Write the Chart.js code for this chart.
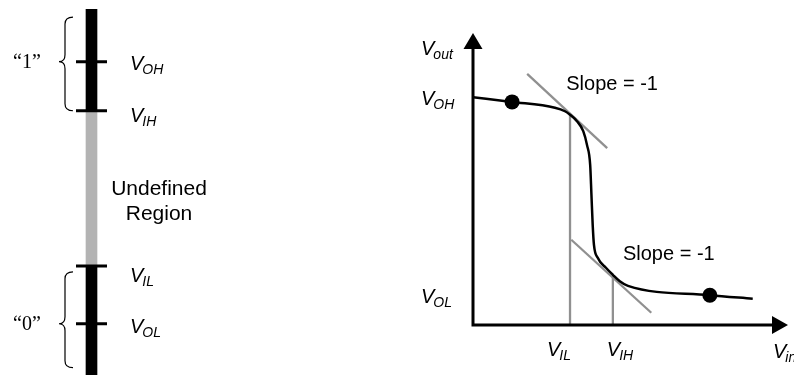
<!DOCTYPE html>
<html>
<head>
<meta charset="utf-8">
<script src="https://cdn.jsdelivr.net/npm/chart.js@4.4.1/dist/chart.umd.min.js"></script>
<style>
  html, body { margin: 0; padding: 0; background: #fff; }
  #wrap { position: relative; width: 794px; height: 375px; overflow: hidden; }
  #levels { position: absolute; left: 0; top: 0; width: 260px; height: 375px; }
  #vtc { position: absolute; left: 400px; top: 0; width: 394px; height: 375px; }
</style>
</head>
<body>
<div id="wrap">
  <canvas id="levels" width="260" height="375"></canvas>
  <canvas id="vtc" width="394" height="375"></canvas>
</div>
<script>
// ---- left: logic levels on the voltage bar (volts) ----
var levelNames  = ['OH', 'IH', 'IL', 'OL']
var levelValues = [4.28, 3.61, 1.49, 0.70]
var barLow = 0
var barTop = 5
var braceFrom   = [3.61, 0.10]
var braceTo     = [4.89, 1.41]
var braceTip    = [4.28, 0.70]
var braceLabels = ['\u201c1\u201d', '\u201c0\u201d']

// ---- right: voltage transfer characteristic (volts) ----
var vin  = [0, 0.62, 1.30, 1.46, 1.54, 1.65, 1.75, 1.81, 1.86, 1.88, 1.90, 1.92, 1.98, 2.11, 2.22, 2.33, 2.46, 3.76, 4.44]
var vout = [3.90, 3.82, 3.72, 3.66, 3.60, 3.49, 3.32, 3.08, 2.74, 2.23, 1.71, 1.37, 1.15, 0.98, 0.86, 0.75, 0.67, 0.51, 0.45]
var dotVin  = [0.62, 3.76]
var dotVout = [3.82, 0.51]
var tangentHighVin  = [0.86, 2.13]
var tangentHighVout = [4.30, 3.03]
var tangentLowVin   = [1.56, 2.83]
var tangentLowVout  = [1.46, 0.21]
var VIL = 1.54, VIH = 2.22, VOH = 3.90, VOL = 0.48
var VIL_OUT = 3.60, VIH_OUT = 0.86

var SANS = '"Liberation Sans", Arial, sans-serif'
var SERIF = '"Liberation Serif", "Times New Roman", serif'

function pts(xs, ys) {
  return xs.map(function (x, i) { return { x: x, y: ys[i] } })
}

// V with italic subscript, x = left edge, y = baseline
function drawSub(ctx, main, sub, x, y, size) {
  ctx.textAlign = 'left'
  ctx.textBaseline = 'alphabetic'
  ctx.font = 'italic ' + size + 'px ' + SANS
  ctx.fillText(main, x, y)
  var w = ctx.measureText(main).width
  ctx.font = 'italic ' + Math.round(size * 0.7) + 'px ' + SANS
  ctx.fillText(sub, x + w - 1, y + Math.round(size * 0.2))
}

function brace(ctx, x, yTop, yMid, yBot) {
  var s = x + 6, e = x + 14, r = 7
  ctx.beginPath()
  ctx.moveTo(e, yTop)
  ctx.quadraticCurveTo(s, yTop, s, yTop + r)
  ctx.lineTo(s, yMid - r)
  ctx.quadraticCurveTo(s, yMid, x, yMid)
  ctx.quadraticCurveTo(s, yMid, s, yMid + r)
  ctx.lineTo(s, yBot - r)
  ctx.quadraticCurveTo(s, yBot, e, yBot)
  ctx.stroke()
}

var levelsPlugin = {
  id: 'levelsText',
  afterDraw: function (chart) {
    var ctx = chart.ctx
    var y = chart.scales.y
    var offsets = [8, 11, 16, 9]
    ctx.save()
    ctx.fillStyle = '#000'
    levelNames.forEach(function (n, i) {
      drawSub(ctx, 'V', n, 130, y.getPixelForValue(levelValues[i]) + offsets[i], 20)
    })
    ctx.font = '21px ' + SANS
    ctx.textAlign = 'center'
    ctx.textBaseline = 'alphabetic'
    var mid = y.getPixelForValue((levelValues[1] + levelValues[2]) / 2)
    ctx.fillText('Undefined', 159, mid + 7)
    ctx.fillText('Region', 159, mid + 32)

    ctx.strokeStyle = '#000'
    ctx.lineWidth = 1.2
    braceLabels.forEach(function (t, i) {
      var tip = y.getPixelForValue(braceTip[i])
      brace(ctx, 59, y.getPixelForValue(braceTo[i]), tip, y.getPixelForValue(braceFrom[i]))
      ctx.font = '20px ' + SERIF
      ctx.textAlign = 'left'
      ctx.textBaseline = 'middle'
      ctx.fillText(t, 13, tip + 1)
    })
    ctx.restore()
  }
}

new Chart(document.getElementById('levels'), {
  type: 'bar',
  data: {
    labels: ['level'],
    datasets: [
      {
        type: 'scatter',
        data: levelValues.map(function (v) { return { x: 'level', y: v } }),
        pointStyle: 'line',
        pointRadius: 15.5,
        borderWidth: 3,
        borderColor: '#000',
        order: 0
      },
      { data: [[barLow, levelValues[2]]], backgroundColor: '#000', order: 1 },
      { data: [[levelValues[2], levelValues[1]]], backgroundColor: '#b3b3b3', order: 1 },
      { data: [[levelValues[1], barTop]], backgroundColor: '#000', order: 1 }
    ]
  },
  options: {
    responsive: false,
    animation: false,
    events: [],
    layout: { autoPadding: false, padding: { left: 0, right: 77, top: 9, bottom: 0 } },
    datasets: { bar: { grouped: false, barThickness: 11 } },
    plugins: { legend: { display: false }, tooltip: { enabled: false } },
    scales: {
      x: { display: false },
      y: { display: false, min: 0, max: 5 }
    }
  },
  plugins: [levelsPlugin]
})

var vtcPlugin = {
  id: 'vtcAxes',
  afterDatasetsDraw: function (chart) {
    var ctx = chart.ctx
    var x = chart.scales.x, y = chart.scales.y
    var x0 = x.getPixelForValue(0), y0 = y.getPixelForValue(0)
    var xt = x.getPixelForValue(x.max), yt = y.getPixelForValue(y.max)
    ctx.save()
    ctx.strokeStyle = '#000'
    ctx.fillStyle = '#000'
    ctx.lineWidth = 3
    ctx.beginPath()
    ctx.moveTo(x0, y0 + 1.5)
    ctx.lineTo(x0, yt + 15)
    ctx.moveTo(x0 - 1.5, y0)
    ctx.lineTo(xt - 15, y0)
    ctx.stroke()
    ctx.beginPath()
    ctx.moveTo(x0, yt)
    ctx.lineTo(x0 - 9.5, yt + 16)
    ctx.lineTo(x0 + 9.5, yt + 16)
    ctx.closePath()
    ctx.moveTo(xt, y0)
    ctx.lineTo(xt - 16, y0 - 9)
    ctx.lineTo(xt - 16, y0 + 9)
    ctx.closePath()
    ctx.fill()

    drawSub(ctx, 'V', 'out', 21, yt + 22, 20)
    drawSub(ctx, 'V', 'OH', 21, y.getPixelForValue(VOH) + 8, 20)
    drawSub(ctx, 'V', 'OL', 21, y.getPixelForValue(VOL) + 6, 20)
    drawSub(ctx, 'V', 'IL', x.getPixelForValue(VIL) - 23, y0 + 31, 20)
    drawSub(ctx, 'V', 'IH', x.getPixelForValue(VIH) - 6, y0 + 31, 20)
    drawSub(ctx, 'V', 'in', xt - 15, y0 + 33, 20)

    ctx.font = '20px ' + SANS
    ctx.textAlign = 'left'
    ctx.textBaseline = 'alphabetic'
    ctx.fillText('Slope = -1', x.getPixelForValue(1.48), y.getPixelForValue(4.02))
    ctx.fillText('Slope = -1', x.getPixelForValue(2.38), y.getPixelForValue(1.12))
    ctx.restore()
  }
}

// tangent and guide lines are mid grey, a bit over 2px
var grayLine = { showLine: true, pointRadius: 0, borderColor: '#909090', borderWidth: 2.3 }

new Chart(document.getElementById('vtc'), {
  type: 'scatter',
  data: {
    datasets: [
      {
        data: pts(dotVin, dotVout),
        pointRadius: 7.5,
        backgroundColor: '#000',
        borderWidth: 0
      },
      {
        data: pts(vin, vout),
        showLine: true,
        pointRadius: 0,
        borderColor: '#000',
        borderWidth: 2.5,
        cubicInterpolationMode: 'monotone'
      },
      Object.assign({ data: pts(tangentHighVin, tangentHighVout) }, grayLine),
      Object.assign({ data: pts(tangentLowVin, tangentLowVout) }, grayLine),
      Object.assign({ data: pts([VIL, VIL], [0, VIL_OUT]) }, grayLine),
      Object.assign({ data: pts([VIH, VIH], [0, VIH_OUT]) }, grayLine)
    ]
  },
  options: {
    responsive: false,
    animation: false,
    events: [],
    layout: { autoPadding: false, padding: { left: 73, right: 6, top: 33, bottom: 50 } },
    plugins: { legend: { display: false }, tooltip: { enabled: false } },
    scales: {
      x: { type: 'linear', display: false, min: 0, max: 5 },
      y: { type: 'linear', display: false, min: 0, max: 5 }
    }
  },
  plugins: [vtcPlugin]
})
</script>
</body>
</html>
